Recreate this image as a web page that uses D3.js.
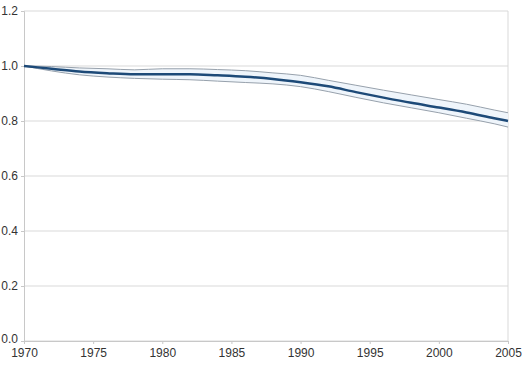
<!DOCTYPE html>
<html>
<head>
<meta charset="UTF-8">
<script src="https://cdn.jsdelivr.net/npm/d3@7"></script>
<style>
  body { margin: 0; background: #fff; }
  svg text { font-family: "Liberation Sans", Arial, sans-serif; font-size: 12px; fill: #333; }
</style>
</head>
<body>
<svg id="chart" width="528" height="371"></svg>
<script>
// data
var years = [1970, 1972, 1974, 1976, 1978, 1980, 1982, 1984, 1986, 1988, 1990, 1992, 1994, 1996, 1998, 2000, 2002, 2004, 2005];
var mainVals  = [1.0, 0.990, 0.980, 0.974, 0.970, 0.970, 0.970, 0.966, 0.961, 0.953, 0.941, 0.926, 0.905, 0.885, 0.866, 0.849, 0.831, 0.810, 0.800];
var upperVals = [1.0, 0.998, 0.993, 0.990, 0.986, 0.990, 0.990, 0.987, 0.983, 0.975, 0.966, 0.948, 0.930, 0.912, 0.895, 0.878, 0.861, 0.840, 0.830];
var lowerVals = [1.0, 0.982, 0.968, 0.960, 0.955, 0.952, 0.950, 0.945, 0.940, 0.935, 0.925, 0.907, 0.886, 0.866, 0.848, 0.830, 0.810, 0.790, 0.778];
var xTicks = [1970, 1975, 1980, 1985, 1990, 1995, 2000, 2005];
var yTicks = [0, 0.2, 0.4, 0.6, 0.8, 1.0, 1.2];

var svg = d3.select("#chart");
var plotL = 24, plotR = 508, plotT = 11, plotB = 341;

var x = d3.scaleLinear().domain([1970, 2005]).range([plotL, plotR]);
var y = d3.scaleLinear().domain([0, 1.2]).range([plotB, plotT]);

// grid
svg.append("g").selectAll("line").data(yTicks).enter().append("line")
  .attr("x1", plotL).attr("x2", plotR)
  .attr("y1", function(d) { return y(d); }).attr("y2", function(d) { return y(d); })
  .attr("stroke", "#d9d9d9").attr("stroke-width", 1);
svg.append("line").attr("x1", plotR).attr("x2", plotR).attr("y1", plotT).attr("y2", plotB)
  .attr("stroke", "#d9d9d9");

// axes
var xAxis = svg.append("g").attr("transform", "translate(0," + plotB + ")")
  .call(d3.axisBottom(x).tickValues(xTicks).tickFormat(d3.format("d")).tickSize(3).tickPadding(4));
var yAxis = svg.append("g").attr("transform", "translate(" + plotL + ",0)")
  .call(d3.axisLeft(y).tickValues(yTicks).tickFormat(d3.format(".1f")).tickSize(3).tickPadding(3));
[xAxis, yAxis].forEach(function(a) {
  a.select(".domain").attr("stroke", "#c8c8c8");
  a.selectAll(".tick line").attr("stroke", "#c8c8c8");
  a.selectAll("text").style("font-size", "12px").attr("fill", "#333");
});
// 0.0 sits just above the first year label
yAxis.selectAll(".tick text").filter(function(d) { return d === 0; }).attr("dy", "0.12em");

var rows = years.map(function(yr, i) { return { yr: yr, m: mainVals[i], u: upperVals[i], l: lowerVals[i] }; });

// band
svg.append("path").datum(rows)
  .attr("fill", "#eff5fb")
  .attr("d", d3.area().curve(d3.curveMonotoneX)
    .x(function(d) { return x(d.yr); })
    .y0(function(d) { return y(d.l); })
    .y1(function(d) { return y(d.u); }));

function line(key, color, w) {
  svg.append("path").datum(rows)
    .attr("fill", "none").attr("stroke", color).attr("stroke-width", w)
    .attr("d", d3.line().curve(d3.curveMonotoneX)
      .x(function(d) { return x(d.yr); })
      .y(function(d) { return y(d[key]); }));
}
line("u", "#97a1ac", 1);
line("l", "#97a1ac", 1);
line("m", "#1d4a78", 2.5);
</script>
</body>
</html>
